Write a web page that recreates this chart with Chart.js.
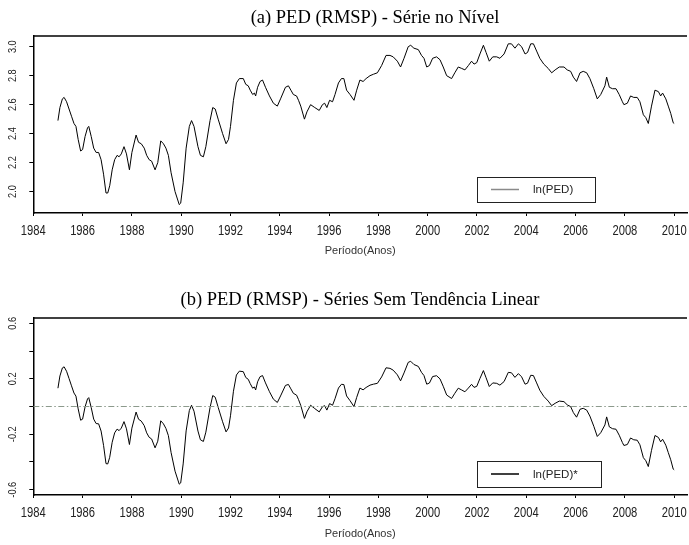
<!DOCTYPE html>
<html>
<head>
<meta charset="utf-8">
<script src="https://cdn.jsdelivr.net/npm/chart.js@4.4.0/dist/chart.umd.min.js"></script>
<style>
html, body { margin: 0; padding: 0; background: #fff; overflow: hidden; }
#wrap { position: relative; width: 689px; height: 545px; }
canvas { position: absolute; left: 0; }
#chartA { top: 0; }
#chartB { top: 282px; }
</style>
</head>
<body>
<div id="wrap">
    <canvas id="chartA" width="689" height="282"></canvas>
    <canvas id="chartB" width="689" height="263"></canvas>
</div>
<script>
/* ============================================
   PED (RMSP) - serie em nivel e sem tendencia
   ============================================ */

// periodo (anos, com fracao do mes)
const years = [
    1985.00, 1985.08, 1985.18, 1985.25, 1985.35, 1985.45, 1985.55, 1985.65, 1985.73, 1985.82, 1985.92,
    1986.00, 1986.10, 1986.20, 1986.25, 1986.35, 1986.45, 1986.55, 1986.65, 1986.75, 1986.85, 1986.95,
    1987.02, 1987.10, 1987.20, 1987.30, 1987.40, 1987.48, 1987.57, 1987.68, 1987.78, 1987.90,
    1988.00, 1988.17, 1988.27, 1988.38, 1988.50, 1988.60, 1988.70, 1988.80, 1988.94,
    1989.05, 1989.17, 1989.28, 1989.38, 1989.48, 1989.59, 1989.75, 1989.92, 1989.98,
    1990.08, 1990.20, 1990.33, 1990.42, 1990.52, 1990.68, 1990.78, 1990.90,
    1991.00, 1991.17, 1991.28, 1991.38, 1991.50, 1991.68, 1991.82, 1991.92,
    1992.00, 1992.12, 1992.24, 1992.36, 1992.52, 1992.62, 1992.72, 1992.80, 1992.90, 1992.97,
    1993.02, 1993.10, 1993.20, 1993.30, 1993.42, 1993.58, 1993.74, 1993.90,
    1994.03, 1994.23, 1994.35, 1994.45, 1994.55, 1994.68, 1994.76, 1994.85,
    1995.00, 1995.10, 1995.25, 1995.42, 1995.60, 1995.73, 1995.82, 1995.91,
    1996.02, 1996.14, 1996.24, 1996.38, 1996.50, 1996.60, 1996.71, 1996.85,
    1997.01, 1997.12, 1997.25, 1997.38, 1997.50, 1997.66, 1997.80, 1997.96,
    1998.13, 1998.31, 1998.47, 1998.60, 1998.77, 1998.90,
    1999.04, 1999.21, 1999.31, 1999.44, 1999.62, 1999.75, 1999.85, 1999.96,
    2000.07, 2000.20, 2000.36, 2000.50, 2000.63, 2000.77, 2000.97,
    2001.10, 2001.24, 2001.38, 2001.51, 2001.65, 2001.78, 2001.88, 2001.99,
    2002.12, 2002.26, 2002.37, 2002.50, 2002.64, 2002.80, 2002.93,
    2003.10, 2003.27, 2003.40, 2003.54, 2003.68, 2003.81, 2003.95,
    2004.05, 2004.18, 2004.29, 2004.42, 2004.55, 2004.71, 2004.89,
    2005.03, 2005.17, 2005.34, 2005.53, 2005.66, 2005.80, 2005.91,
    2006.04, 2006.18, 2006.31, 2006.45, 2006.58, 2006.74, 2006.88,
    2007.02, 2007.19, 2007.26, 2007.37, 2007.50, 2007.64, 2007.77, 2007.90, 2007.96,
    2008.10, 2008.23, 2008.36, 2008.50, 2008.61, 2008.75, 2008.85, 2008.95,
    2009.08, 2009.22, 2009.36, 2009.45, 2009.53, 2009.66, 2009.76, 2009.86, 2009.96, 2010.00
];

// (a) ln(PED) no nivel
const lnPed = [
    2.49, 2.58, 2.64, 2.65, 2.62, 2.57, 2.52, 2.47, 2.45, 2.36, 2.28,
    2.29, 2.38, 2.44, 2.45, 2.38, 2.30, 2.27, 2.27, 2.22, 2.12, 1.99,
    1.99, 2.04, 2.15, 2.22, 2.25, 2.24, 2.26, 2.31, 2.26, 2.15,
    2.27, 2.39, 2.34, 2.33, 2.30, 2.25, 2.22, 2.21, 2.15,
    2.20, 2.35, 2.33, 2.30, 2.25, 2.13, 2.00, 1.91, 1.92,
    2.06, 2.30, 2.45, 2.49, 2.45, 2.31, 2.25, 2.24,
    2.31, 2.49, 2.58, 2.57, 2.50, 2.40, 2.33, 2.36,
    2.45, 2.63, 2.75, 2.78, 2.78, 2.74, 2.73, 2.70, 2.67, 2.68,
    2.66, 2.72, 2.76, 2.77, 2.72, 2.66, 2.61, 2.59,
    2.64, 2.72, 2.73, 2.70, 2.67, 2.66, 2.63, 2.59,
    2.50, 2.55, 2.60, 2.58, 2.56, 2.60, 2.61, 2.58,
    2.63, 2.62, 2.67, 2.75, 2.78, 2.78, 2.70, 2.67,
    2.63, 2.70, 2.77, 2.76, 2.78, 2.80, 2.81, 2.82,
    2.87, 2.94, 2.94, 2.93, 2.90, 2.86,
    2.92, 3.00, 3.01, 2.99, 2.98, 2.94, 2.92, 2.86,
    2.87, 2.92, 2.93, 2.91, 2.86, 2.80, 2.78,
    2.82, 2.86, 2.85, 2.84, 2.87, 2.90, 2.88, 2.89,
    2.95, 3.01, 2.96, 2.90, 2.93, 2.93, 2.92,
    2.95, 3.02, 3.02, 2.99, 3.02, 3.00, 2.95,
    2.96, 3.02, 3.02, 2.97, 2.92, 2.88, 2.85,
    2.82, 2.84, 2.86, 2.86, 2.84, 2.83, 2.79,
    2.76, 2.82, 2.83, 2.82, 2.78, 2.71, 2.64,
    2.67, 2.73, 2.79, 2.72, 2.71, 2.71, 2.67, 2.62, 2.60,
    2.61, 2.66, 2.65, 2.65, 2.62, 2.53, 2.51, 2.47,
    2.59, 2.70, 2.69, 2.66, 2.68, 2.64, 2.59, 2.54, 2.475, 2.47
];

// (b) ln(PED)* sem tendencia linear
const lnPedDetrended = [
    0.132, 0.220, 0.278, 0.286, 0.254, 0.202, 0.149, 0.097, 0.075, -0.017, -0.099,
    -0.091, -0.003, 0.055, 0.064, -0.008, -0.091, -0.123, -0.125, -0.177, -0.280, -0.412,
    -0.414, -0.366, -0.258, -0.190, -0.163, -0.174, -0.156, -0.109, -0.161, -0.274,
    -0.156, -0.040, -0.092, -0.105, -0.138, -0.190, -0.222, -0.234, -0.298,
    -0.250, -0.103, -0.125, -0.158, -0.210, -0.332, -0.466, -0.560, -0.551,
    -0.414, -0.176, -0.029, 0.009, -0.034, -0.177, -0.240, -0.252,
    -0.185, -0.008, 0.079, 0.067, -0.006, -0.110, -0.183, -0.155,
    -0.067, 0.110, 0.227, 0.255, 0.251, 0.209, 0.196, 0.165, 0.132, 0.141,
    0.119, 0.178, 0.215, 0.223, 0.170, 0.107, 0.053, 0.029,
    0.076, 0.152, 0.159, 0.127, 0.095, 0.082, 0.050, 0.008,
    -0.086, -0.038, 0.009, -0.015, -0.039, -0.002, 0.006, -0.026,
    0.021, 0.009, 0.056, 0.133, 0.160, 0.158, 0.076, 0.042,
    -0.001, 0.066, 0.133, 0.120, 0.137, 0.154, 0.161, 0.167,
    0.213, 0.279, 0.275, 0.262, 0.228, 0.185,
    0.242, 0.318, 0.326, 0.303, 0.289, 0.246, 0.223, 0.161,
    0.169, 0.216, 0.222, 0.199, 0.146, 0.083, 0.058,
    0.095, 0.132, 0.119, 0.106, 0.133, 0.160, 0.138, 0.145,
    0.202, 0.259, 0.207, 0.144, 0.170, 0.167, 0.154,
    0.180, 0.246, 0.243, 0.210, 0.237, 0.214, 0.161,
    0.168, 0.225, 0.223, 0.170, 0.117, 0.073, 0.039,
    0.006, 0.023, 0.039, 0.035, 0.012, -0.001, -0.044,
    -0.077, -0.020, -0.013, -0.026, -0.069, -0.143, -0.216,
    -0.189, -0.133, -0.075, -0.147, -0.160, -0.164, -0.207, -0.260, -0.281,
    -0.274, -0.227, -0.240, -0.243, -0.276, -0.369, -0.391, -0.433,
    -0.316, -0.209, -0.223, -0.255, -0.236, -0.279, -0.332, -0.384, -0.451, -0.457
];

// linha de referencia em zero (painel b)
const zeroLineYears = [1984, 2010.52];
const zeroLineValues = [0, 0];

const xTicksStep = 2;
const yTicksStep = 0.2;
const yLabelsA = ['2.0', '2.2', '2.4', '2.6', '2.8', '3.0'];
const yLabelsB = ['-0.6', '-0.2', '0.2', '0.6'];

const SANS = '"Liberation Sans", Arial, sans-serif';
const SERIF = '"Liberation Serif", "Times New Roman", serif';
const NARROW_SCALE = 0.8;   // simula fonte condensada dos eixos

function toPoints(xs, ys) {
    return xs.map((x, i) => ({ x: x, y: ys[i] }));
}

function fmtTick(v) {
    const r = Math.round(v * 10) / 10;
    return r.toFixed(1);
}

function drawNarrowText(ctx, text, x, y, angle) {
    ctx.save();
    ctx.translate(x, y);
    if (angle) ctx.rotate(angle);
    ctx.scale(NARROW_SCALE, 1);
    ctx.fillText(text, 0, 0);
    ctx.restore();
}

function decorPlugin(cfg) {
    return {
        id: 'decor',
        afterDraw(chart) {
            const ctx = chart.ctx;
            const area = chart.chartArea;
            const xScale = chart.scales.x;
            const yScale = chart.scales.y;
            ctx.save();

            // linha superior da moldura
            ctx.strokeStyle = '#000';
            ctx.lineWidth = 1.5;
            ctx.beginPath();
            ctx.moveTo(area.left, area.top);
            ctx.lineTo(area.right, area.top);
            ctx.stroke();

            // rotulos do eixo x
            ctx.fillStyle = '#222';
            ctx.textAlign = 'center';
            ctx.textBaseline = 'middle';
            ctx.font = '14px ' + SANS;
            xScale.ticks.forEach(t => {
                const px = xScale.getPixelForValue(t.value);
                drawNarrowText(ctx, String(Math.round(t.value)), px, area.bottom + 18, 0);
            });

            // rotulos do eixo y (verticais)
            ctx.font = '11.5px ' + SANS;
            yScale.ticks.forEach(t => {
                const label = fmtTick(t.value);
                if (!cfg.yLabels.includes(label)) return;
                const py = yScale.getPixelForValue(t.value);
                drawNarrowText(ctx, label, cfg.yLabelX, py, -Math.PI / 2);
            });

            // titulo
            ctx.fillStyle = '#000';
            ctx.font = '18.5px ' + SERIF;
            ctx.fillText(cfg.title, cfg.titleX, cfg.titleY);

            // legenda
            const lg = cfg.legend;
            ctx.fillStyle = '#fff';
            ctx.fillRect(lg.x, lg.y, lg.w, lg.h);
            ctx.strokeStyle = '#222';
            ctx.lineWidth = 1;
            ctx.strokeRect(lg.x + 0.5, lg.y + 0.5, lg.w, lg.h);
            ctx.strokeStyle = lg.lineColor;
            ctx.lineWidth = 1.5;
            ctx.beginPath();
            ctx.moveTo(lg.x + 14, lg.y + lg.h / 2);
            ctx.lineTo(lg.x + 42, lg.y + lg.h / 2);
            ctx.stroke();
            ctx.fillStyle = '#222';
            ctx.font = '11.5px ' + SANS;
            ctx.textAlign = 'left';
            ctx.fillText(lg.text, lg.x + 56, lg.y + lg.h / 2 + 0.5);

            ctx.restore();
        }
    };
}

function buildOptions(yMin, yMax, xHeight, titlePadBottom) {
    return {
        responsive: false,
        animation: false,
        layout: { padding: { top: 36, right: 2, left: 0, bottom: 0 } },
        plugins: { legend: { display: false }, tooltip: { enabled: false } },
        scales: {
            x: {
                type: 'linear',
                min: 1984,
                max: 2010.52,
                afterFit: (s) => { s.height = xHeight; },
                ticks: { stepSize: xTicksStep, includeBounds: false, autoSkip: false, display: false },
                grid: { drawOnChartArea: false, drawTicks: true, tickLength: 3, color: '#000', lineWidth: 1 },
                border: { display: true, color: '#000', width: 1.5 },
                title: {
                    display: true,
                    text: 'Período(Anos)',
                    color: '#333',
                    font: { family: SANS, size: 11 },
                    padding: { top: 0, bottom: titlePadBottom }
                }
            },
            y: {
                min: yMin,
                max: yMax,
                afterFit: (s) => { s.width = 33.3; },
                ticks: { stepSize: yTicksStep, includeBounds: false, display: false },
                grid: { drawOnChartArea: false, drawTicks: true, tickLength: 4, color: '#000', lineWidth: 1 },
                border: { display: true, color: '#000', width: 1.5 }
            }
        }
    };
}

function renderPanelA() {
    const ctx = document.getElementById('chartA').getContext('2d');
    new Chart(ctx, {
        type: 'line',
        data: {
            datasets: [{
                label: 'ln(PED)',
                data: toPoints(years, lnPed),
                borderColor: '#000',
                borderWidth: 1,
                pointRadius: 0,
                tension: 0,
                fill: false
            }]
        },
        options: buildOptions(1.852, 3.074, 69, 24),
        plugins: [decorPlugin({
            title: '(a) PED (RMSP) - Série no Nível',
            titleX: 375, titleY: 18,
            yLabelX: 13,
            yLabels: yLabelsA,
            legend: { x: 477, y: 177, w: 118, h: 25, text: 'ln(PED)', lineColor: '#8a8a8a' }
        })]
    });
}

function renderPanelB() {
    const ctx = document.getElementById('chartB').getContext('2d');
    new Chart(ctx, {
        type: 'line',
        data: {
            datasets: [{
                label: 'zero',
                data: toPoints(zeroLineYears, zeroLineValues),
                borderColor: '#8c9a8c',
                borderWidth: 1,
                borderDash: [6, 2.5, 1.5, 2.5],
                pointRadius: 0,
                fill: false
            }, {
                label: 'ln(PED)*',
                data: toPoints(years, lnPedDetrended),
                borderColor: '#000',
                borderWidth: 1,
                pointRadius: 0,
                tension: 0,
                fill: false
            }]
        },
        options: buildOptions(-0.638, 0.638, 50, 4),
        plugins: [decorPlugin({
            title: '(b) PED (RMSP) - Séries Sem Tendência Linear',
            titleX: 360, titleY: 18,
            yLabelX: 13,
            yLabels: yLabelsB,
            legend: { x: 477, y: 179, w: 124, h: 26, text: 'ln(PED)*', lineColor: '#000' }
        })]
    });
}

renderPanelA();
renderPanelB();
</script>
</body>
</html>
